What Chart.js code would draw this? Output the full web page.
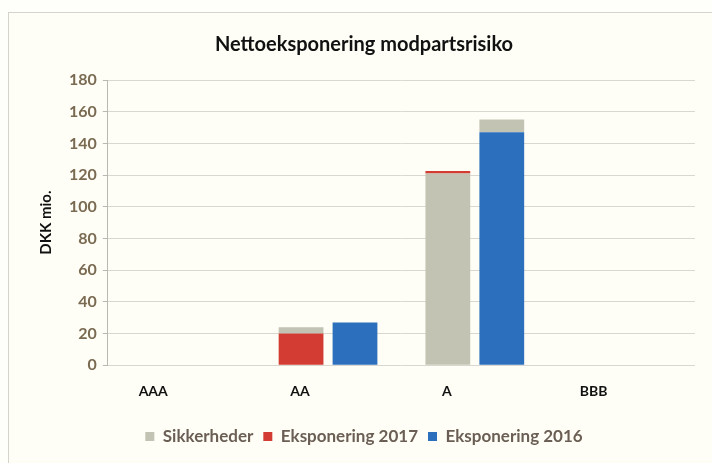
<!DOCTYPE html>
<html>
<head>
<meta charset="utf-8">
<script src="https://cdn.jsdelivr.net/npm/chart.js@4/dist/chart.umd.min.js"></script>
<style>
  html, body { margin: 0; padding: 0; background: #fefefa; }
  #frame { position: absolute; left: 8px; top: 12px; width: 720px; height: 460px; border: 1px solid #d4d4cc; background: #fefef6; }
  #wrap { position: absolute; left: -9px; top: -13px; width: 712px; height: 463px; }
</style>
</head>
<body>
<div id="frame"><div id="wrap"><canvas id="c" width="712" height="463"></canvas></div></div>
<script>
const categories = ['AAA', 'AA', 'A', 'BBB'];
const yTicks = [0, 20, 40, 60, 80, 100, 120, 140, 160, 180];
// 2017 stack
const sikkerheder2017Lower = [0, 0, 121, 0];
const eksponering2017 = [0, 20, 1.5, 0];
const sikkerheder2017Upper = [0, 4, 0, 0];
// 2016 stack
const eksponering2016 = [0, 27, 147, 0];
const sikkerheder2016 = [0, 0, 8, 0];

const GRAY = '#c3c3b3';
const RED = '#d23c33';
const BLUE = '#2b6fbd';

new Chart(document.getElementById('c'), {
  type: 'bar',
  data: {
    labels: categories,
    datasets: [
      { label: 'Sikkerheder', data: sikkerheder2017Lower, backgroundColor: GRAY, stack: 's2017' },
      { label: 'Eksponering 2017', data: eksponering2017, backgroundColor: RED, stack: 's2017' },
      { label: 'Sikkerheder ', data: sikkerheder2017Upper, backgroundColor: GRAY, stack: 's2017', hideLegend: true },
      { label: 'Eksponering 2016', data: eksponering2016, backgroundColor: BLUE, stack: 's2016' },
      { label: 'Sikkerheder  ', data: sikkerheder2016, backgroundColor: GRAY, stack: 's2016', hideLegend: true }
    ]
  },
  options: {
    responsive: false,
    animation: false,
    categoryPercentage: 0.735,
    barPercentage: 0.83,
    layout: { padding: { left: 33, right: 17, top: 10, bottom: 8 } },
    plugins: {
      title: {
        display: true,
        text: 'Nettoeksponering modpartsrisiko',
        color: '#111',
        font: { family: 'Lato', size: 20, weight: 'bold' },
        padding: { top: 23, bottom: 23 }
      },
      legend: {
        position: 'bottom',
        labels: {
          filter: (item, data) => !data.datasets[item.datasetIndex].hideLegend,
          boxWidth: 9,
          boxHeight: 9,
          padding: 10,
          color: '#6b5f55',
          font: { family: 'Lato', size: 17, weight: 'bold' }
        }
      },
      tooltip: { enabled: false }
    },
    scales: {
      x: {
        stacked: true,
        grid: { display: false, drawTicks: false },
        border: { display: false },
        ticks: {
          color: '#111',
          font: { family: 'Lato', size: 14, weight: 'bold' },
          padding: 18,
          labelOffset: -28
        }
      },
      y: {
        stacked: true,
        min: 0,
        max: 180,
        afterBuildTicks: (axis) => { axis.ticks = yTicks.map(v => ({ value: v })); },
        grid: { color: '#d8d8d0', tickLength: 5, tickColor: '#b8b8b0' },
        border: { display: true, color: '#b8b8b0' },
        ticks: {
          color: '#7a6a52',
          font: { family: 'Lato', size: 16, weight: 'bold' },
          padding: 6
        },
        title: {
          display: true,
          text: 'DKK mio.',
          color: '#111',
          font: { family: 'Lato', size: 15, weight: 'bold' },
          padding: { bottom: 8 }
        }
      }
    }
  }
});
</script>
</body>
</html>
